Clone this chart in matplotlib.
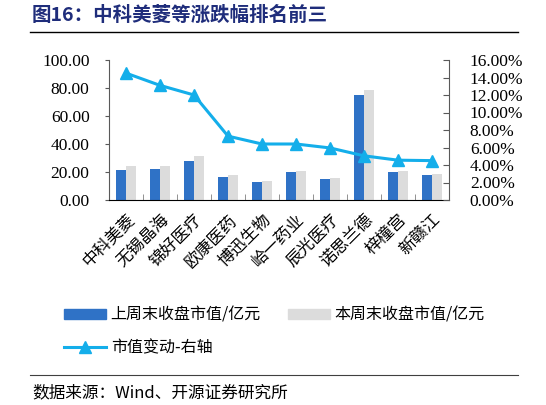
import numpy as np
import matplotlib
matplotlib.use('Agg')
from matplotlib import pyplot as plt
from matplotlib.lines import Line2D
from matplotlib.patches import Patch
from matplotlib.ticker import FuncFormatter

plt.rcParams['font.family'] = ['Noto Sans CJK SC', 'DejaVu Sans']

# Data
names = ['中科美菱', '无锡晶海', '锦好医疗', '欧康医药', '博迅生物',
         '峆一药业', '辰光医疗', '诺思兰德', '梓橦宫', '新赣江']
last_week = [21.5, 21.8, 28.0, 16.7, 13.2, 19.9, 15.1, 74.7, 19.9, 17.7]
this_week = [24.5, 24.4, 31.5, 17.9, 13.9, 20.8, 16.0, 78.3, 20.6, 18.7]
change_pct = [14.5, 13.1, 12.0, 7.3, 6.4, 6.4, 5.95, 5.05, 4.55, 4.5]

blue = '#2F72C6'
grey = '#DCDCDC'
cyan = '#14AEEA'
navy = '#1F2D7B'
num_font = 'Liberation Serif'

fig = plt.figure(figsize=(5.46, 4.05), dpi=100)
ax = fig.add_axes([109 / 546, 1 - 200 / 405, 340 / 546, 140 / 405])
ax2 = ax.twinx()

x = np.arange(len(names))
w = 0.3
ax.bar(x - w / 2, last_week, w, color=blue, zorder=2)
ax.bar(x + w / 2, this_week, w, color=grey, zorder=2)
ax2.plot(x, change_pct, color=cyan, lw=2.2, marker='^', ms=8.5, zorder=3)

ax.set_xlim(-0.5, len(names) - 0.5)
ax.set_ylim(0, 100)
ax.set_yticks(np.arange(0, 101, 20))
ax.yaxis.set_major_formatter(FuncFormatter(lambda v, p: '%.2f' % v))
ax2.set_ylim(0, 16)
ax2.set_yticks(np.arange(0, 17, 2))
ax2.yaxis.set_major_formatter(FuncFormatter(lambda v, p: '%.2f%%' % v))

for t in ax.get_yticklabels() + ax2.get_yticklabels():
    t.set_fontfamily(num_font)
    t.set_fontsize(12.5)
ax.tick_params(axis='y', direction='out', length=3, pad=11, color='#595959')
ax2.tick_params(axis='y', direction='in', length=4, pad=15, color='#595959')

# category boundaries as small inward ticks
ax.set_xticks(x - 0.5, minor=True)
ax.set_xticks(x)
ax.set_xticklabels(names, rotation=45, ha='right', rotation_mode='anchor',
                   fontsize=12)
ax.tick_params(axis='x', which='major', length=0, pad=8)
ax.tick_params(axis='x', which='minor', direction='in', length=4,
               color='#808080')

for s in ['top']:
    ax.spines[s].set_visible(False)
    ax2.spines[s].set_visible(False)
ax.spines['left'].set_color('#595959')
ax2.spines['right'].set_color('#595959')
ax2.spines['left'].set_visible(False)
ax2.spines['bottom'].set_visible(False)
ax.spines['right'].set_visible(False)

handles = [Patch(color=blue), Line2D([], [], color=cyan, lw=2.2, marker='^', ms=8),
           Patch(color=grey)]
labels = ['上周末收盘市值/亿元', '市值变动-右轴', '本周末收盘市值/亿元']
fig.legend(handles, labels, ncol=2, loc='upper left',
           bbox_to_anchor=(50 / 546, 1 - 292 / 405), frameon=False,
           fontsize=11.5, handlelength=2.6, handleheight=0.55,
           handletextpad=0.3, columnspacing=1.7, labelspacing=1.0)

# title, rules and source
fig.text(32 / 546, 1 - 15 / 405, '图16：中科美菱等涨跌幅排名前三',
         color=navy, fontsize=14, fontweight='bold', va='center', ha='left')
fig.add_artist(Line2D([30 / 546, 518 / 546], [1 - 32 / 405, 1 - 32 / 405],
                      color='black', lw=1.0))
fig.add_artist(Line2D([30 / 546, 518 / 546], [1 - 375 / 405, 1 - 375 / 405],
                      color='#404040', lw=0.8))
fig.text(32 / 546, 1 - 393 / 405, '数据来源：Wind、开源证券研究所',
         fontsize=12, va='center', ha='left')

fig.savefig('out.png', dpi=100)
